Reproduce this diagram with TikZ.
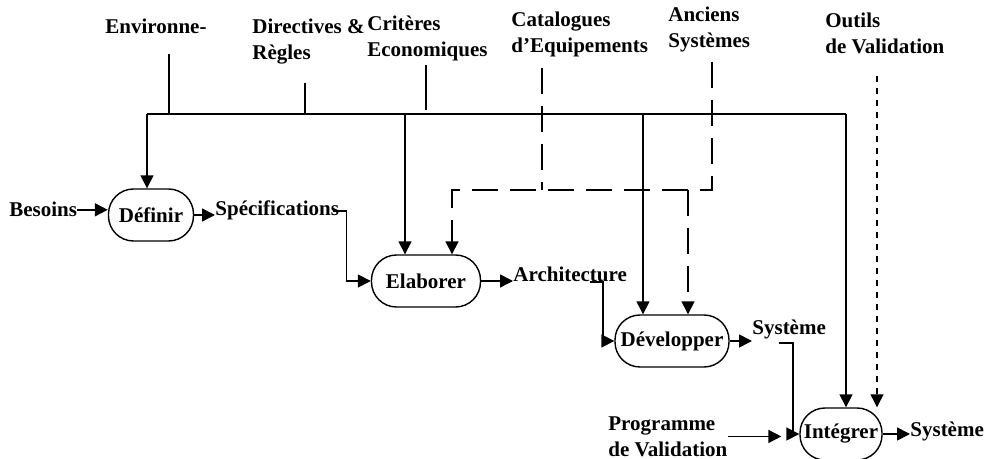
\documentclass[tikz,border=0pt]{standalone}
\usepackage{fontspec}
\setmainfont{Liberation Serif}
\usetikzlibrary{arrows.meta, positioning}

\begin{document}
\begin{tikzpicture}[x=0.5pt, y=-0.5pt,
  every node/.style={font=\fontsize{10.5}{13}\selectfont\bfseries, inner sep=0pt},
  proc/.style={draw, line width=0.7pt, rounded corners=12.5pt, minimum height=26pt},
  lbl/.style={align=left, anchor=north west},
  flow/.style={line width=0.8pt, -{Triangle[length=6.5pt, width=6.5pt]}},
  feed/.style={line width=0.8pt},
  cat/.style={line width=0.8pt, dash pattern=on 13pt off 6pt},
  tool/.style={line width=0.6pt, dash pattern=on 3pt off 3pt}]
\useasboundingbox (0,0) rectangle (985,459);

% activites
\node (def) [proc, minimum width=42.5pt] at (151,215) {Définir};
\node (elab) [proc, minimum width=54.5pt] at (426,281) {Elaborer};
\node (dev) [proc, minimum width=57pt] at (672,341) {Développer};
\node (integ) [proc, minimum width=41pt] at (841,434) {Intégrer};

% entrees / sorties
\node (bes) [anchor=base west] at (9,217) {Besoins};
\node (spec) [anchor=base west] at (215,216) {Spécifications};
\node (arch) [anchor=base west] at (513,282) {Architecture};
\node (sys1) [anchor=base west] at (752,335) {Système};
\node (sys2) [anchor=base west] at (910,437) {Système};
\node (prog) [lbl] at (608,416) {Programme\\de Validation};

% controles et moyens
\node (env) [lbl] at (105,19) {Environne-};
\node (dir) [lbl] at (252,19) {Directives \&\\Règles};
\node (crit) [lbl] at (367,16) {Critères\\Economiques};
\node (catal) [lbl] at (511,12) {Catalogues\\d’Equipements};
\node (anc) [lbl] at (668,7) {Anciens\\Systèmes};
\node (outils) [lbl] at (825,13) {Outils\\de Validation};

\coordinate (envT) at (169,54);
\coordinate (dirT) at (305,83);
\coordinate (critT) at (426,65);
\coordinate (catT) at (542,68);
\coordinate (ancT) at (712,62);
\coordinate (outT) at (877,76);
\coordinate (busW) at (147,114);
\coordinate (busE) at (846,114);
\coordinate (tapE) at (405,114);
\coordinate (tapD) at (643,114);
\coordinate (dashW) at (452,190);
\coordinate (dashD) at (688,190);

% bus des controles
\draw[feed] (envT) -- (envT |- busW);
\draw[feed] (dirT) -- (dirT |- busW);
\draw[feed] (critT) -- ++(0,45);
\draw[feed] (busW) -- (busE);
\draw[flow] (busW) -- (busW |- def.north);
\draw[flow] (tapE) -- (tapE |- elab.north);
\draw[flow] (tapD) -- (tapD |- dev.north);
\draw[flow] (busE) -- (busE |- integ.north);

% moyens (tirets)
\draw[cat, -{Triangle[length=6.5pt, width=6.5pt]}] (ancT) |- (dashW) -- (dashW |- elab.north);
\draw[cat] (catT) -- (catT |- dashW);
\draw[cat, -{Triangle[length=6.5pt, width=6.5pt]}] (dashD) -- (dashD |- dev.north);
\draw[tool, -{Triangle[length=6.5pt, width=6.5pt]}] (outT) -- (outT |- integ.north);

% flux principal
\draw[flow] (bes.east) -- (bes.east -| def.west);
\draw[flow] (def.east) -- (def.east -| spec.west);
\draw[flow] ([xshift=-3pt]spec.east) -- ++(13,0) |- (elab.west);
\draw[flow] (elab.east) -- (elab.east -| arch.west);
\draw[flow] ([xshift=10pt]arch.base) -- ++(13,0) |- (dev.west);
\draw[flow] (dev.east) -- (dev.east -| sys1.west);
\draw[flow] ([xshift=-5pt, yshift=-4pt]sys1.base) -- ++(14,0) |- (integ.west);
\draw[flow, shorten >=9pt] (prog.east) -- (prog.east -| integ.west);
\draw[flow] (integ.east) -- (integ.east -| sys2.west);
\end{tikzpicture}
\end{document}
